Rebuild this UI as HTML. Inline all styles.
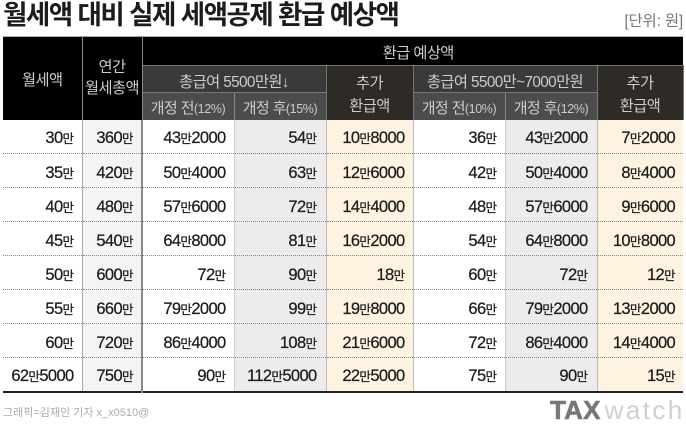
<!DOCTYPE html>
<html lang="ko"><head><meta charset="utf-8"><title>월세액 대비 실제 세액공제 환급 예상액</title>
<style>
html,body{margin:0;padding:0;background:#fff}
body{width:686px;height:425px;position:relative;overflow:hidden;font-family:"Liberation Sans","Noto Sans CJK KR",sans-serif;color:#1a1a1a}
#wrap{position:absolute;left:0;top:0;width:686px;height:425px;filter:blur(.3px)}
#title{position:absolute;left:3px;top:-3px;font-size:26.5px;font-weight:700;letter-spacing:-1.5px;line-height:36px;white-space:nowrap;color:#1c1c1c}
#unit{position:absolute;right:3px;top:13px;font-size:15.5px;color:#777;line-height:18px;white-space:nowrap;letter-spacing:-.2px}
table{position:absolute;left:3px;top:36px;width:680px;border-collapse:collapse;table-layout:fixed;border-top:1px solid #aaa;border-bottom:2px solid #222}
th{font-weight:400;color:#ccc;font-size:15.3px;line-height:21px;padding:0;text-align:center;letter-spacing:-.6px;white-space:nowrap}
th.k{background:#000;border-right:1px solid #888;padding-top:4px}
th.k2{padding-top:0}
th.top{background:#000;height:29px;padding:6px 0 0 11px;box-sizing:border-box;line-height:18px}
th.g{background:#3a3a3a;height:27px;border:1px solid #777;padding-top:7px;box-sizing:border-box;line-height:18px}
th.s{background:#4c4c4c;height:27px;border-right:1px solid #888;font-size:15px;padding-top:6px;box-sizing:border-box;line-height:18px}
th.a{background:#2e2b26;border:1px solid #777;border-bottom:0;line-height:23px;padding-top:4px}
th small{font-size:12.5px;letter-spacing:-.4px}
td{padding:4px 8px 0 0;box-sizing:border-box;text-align:right;font-size:16.5px;letter-spacing:-.65px;height:34px;border-bottom:1px dotted #888;white-space:nowrap;color:#1c1c1c;-webkit-text-stroke:.25px #1c1c1c}
tr:last-child td{border-bottom:0}
td i{font-style:normal;font-size:12.5px;letter-spacing:-.5px}
.ct{background:#f4f4f4;border-left:1px solid #aaa;border-right:2px solid #888}
.w{background:#fff}
.gy{background:#ececec;border-left:1px solid #ccc;border-right:1px solid #bbb;padding-right:9px}
.or{background:#fef2e1}
.or2{border-left:1px solid #bbb}
#credit{position:absolute;left:3px;top:405px;font-size:11px;color:#aaa;line-height:16px;white-space:nowrap}
#logo{position:absolute;left:550px;top:394px;line-height:32px;white-space:nowrap}
#logo b{font-size:26px;color:#777;letter-spacing:.2px;-webkit-text-stroke:.6px #777}
#logo span{font-size:26px;color:#ccd1d2;letter-spacing:2.4px;margin-left:4px}
</style></head>
<body>
<div id="wrap">
<div id="title">월세액 대비 실제 세액공제 환급 예상액</div>
<div id="unit">[단위: 원]</div>
<table>
<colgroup><col style="width:79px"><col style="width:60px"><col style="width:92px"><col style="width:92px"><col style="width:87px"><col style="width:92px"><col style="width:92px"><col style="width:86px"></colgroup>
<thead>
<tr>
<th class="k" rowspan="3">월세액</th>
<th class="k k2" rowspan="3">연간<br>월세총액</th>
<th class="top" colspan="6">환급 예상액</th>
</tr>
<tr>
<th class="g" colspan="2">총급여 5500만원↓</th>
<th class="a" rowspan="2">추가<br>환급액</th>
<th class="g" colspan="2">총급여 5500만~7000만원</th>
<th class="a" rowspan="2">추가<br>환급액</th>
</tr>
<tr>
<th class="s">개정 전<small>(12%)</small></th>
<th class="s">개정 후<small>(15%)</small></th>
<th class="s">개정 전<small>(10%)</small></th>
<th class="s">개정 후<small>(12%)</small></th>
</tr>
</thead>
<tbody>
<tr><td class="w">30<i>만</i></td><td class="ct">360<i>만</i></td><td class="w">43<i>만</i>2000</td><td class="gy">54<i>만</i></td><td class="or">10<i>만</i>8000</td><td class="w or2">36<i>만</i></td><td class="gy">43<i>만</i>2000</td><td class="or">7<i>만</i>2000</td></tr>
<tr><td class="w">35<i>만</i></td><td class="ct">420<i>만</i></td><td class="w">50<i>만</i>4000</td><td class="gy">63<i>만</i></td><td class="or">12<i>만</i>6000</td><td class="w or2">42<i>만</i></td><td class="gy">50<i>만</i>4000</td><td class="or">8<i>만</i>4000</td></tr>
<tr><td class="w">40<i>만</i></td><td class="ct">480<i>만</i></td><td class="w">57<i>만</i>6000</td><td class="gy">72<i>만</i></td><td class="or">14<i>만</i>4000</td><td class="w or2">48<i>만</i></td><td class="gy">57<i>만</i>6000</td><td class="or">9<i>만</i>6000</td></tr>
<tr><td class="w">45<i>만</i></td><td class="ct">540<i>만</i></td><td class="w">64<i>만</i>8000</td><td class="gy">81<i>만</i></td><td class="or">16<i>만</i>2000</td><td class="w or2">54<i>만</i></td><td class="gy">64<i>만</i>8000</td><td class="or">10<i>만</i>8000</td></tr>
<tr><td class="w">50<i>만</i></td><td class="ct">600<i>만</i></td><td class="w">72<i>만</i></td><td class="gy">90<i>만</i></td><td class="or">18<i>만</i></td><td class="w or2">60<i>만</i></td><td class="gy">72<i>만</i></td><td class="or">12<i>만</i></td></tr>
<tr><td class="w">55<i>만</i></td><td class="ct">660<i>만</i></td><td class="w">79<i>만</i>2000</td><td class="gy">99<i>만</i></td><td class="or">19<i>만</i>8000</td><td class="w or2">66<i>만</i></td><td class="gy">79<i>만</i>2000</td><td class="or">13<i>만</i>2000</td></tr>
<tr><td class="w">60<i>만</i></td><td class="ct">720<i>만</i></td><td class="w">86<i>만</i>4000</td><td class="gy">108<i>만</i></td><td class="or">21<i>만</i>6000</td><td class="w or2">72<i>만</i></td><td class="gy">86<i>만</i>4000</td><td class="or">14<i>만</i>4000</td></tr>
<tr><td class="w">62<i>만</i>5000</td><td class="ct">750<i>만</i></td><td class="w">90<i>만</i></td><td class="gy">112<i>만</i>5000</td><td class="or">22<i>만</i>5000</td><td class="w or2">75<i>만</i></td><td class="gy">90<i>만</i></td><td class="or">15<i>만</i></td></tr>
</tbody>
</table>
<div id="credit">그래픽=김재인 기자 x_x0510@</div>
<div id="logo"><b>TAX</b><span>watch</span></div>
</div>
</body></html>
